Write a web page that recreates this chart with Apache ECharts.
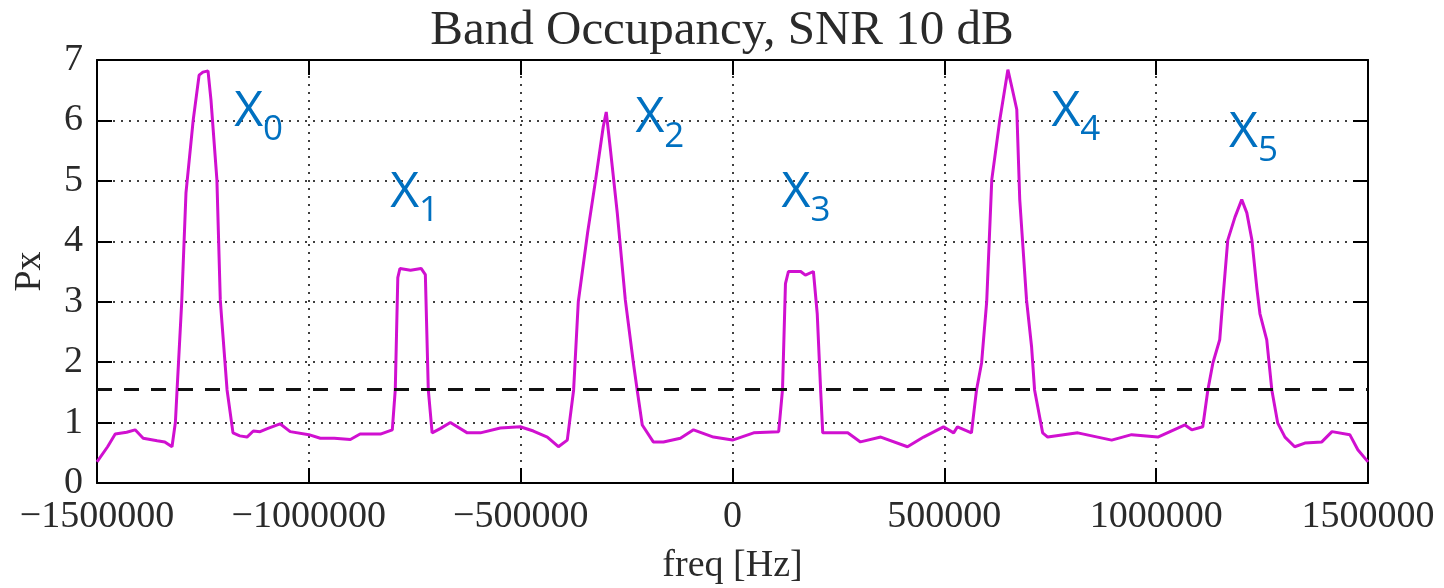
<!DOCTYPE html>
<html>
<head>
<meta charset="utf-8">
<script src="https://cdn.jsdelivr.net/npm/echarts@6/dist/echarts.min.js"></script>
<style>
  html, body { margin: 0; padding: 0; background: #fff; }
  #chart { width: 1444px; height: 588px; }
</style>
</head>
<body>
<div id="chart"></div>
<script>
// spectrum (freq in Hz, Px)
var freqHz = [
  -1500000, -1475000, -1457000, -1430000, -1410000, -1391000, -1358000, -1340000, -1323000, -1315000,
  -1311000, -1300000, -1290000, -1273000, -1259000, -1250000, -1238000, -1231000, -1217000, -1209000,
  -1205000, -1193000, -1179000, -1163000, -1146000, -1131000, -1115000, -1098000, -1068000, -1044000,
  -1000000, -973000, -940000, -902000, -879000, -831000, -803000, -796000, -790000, -785000,
  -760000, -735000, -725000, -718000, -709000, -690000, -666000, -626000, -595000, -548000,
  -501000, -470000, -437000, -411000, -390000, -375000, -364000, -342000, -323000, -305000,
  -298000, -288000, -272000, -253000, -234000, -225000, -213000, -187000, -163000, -123000,
  -92000, -45000, 0, 50000, 109000, 118000, 125000, 132000, 161000, 172000,
  191000, 200000, 208000, 213000, 272000, 302000, 350000, 413000, 451000, 498000,
  522000, 531000, 564000, 576000, 588000, 600000, 612000, 631000, 650000, 661000,
  671000, 678000, 686000, 694000, 706000, 713000, 732000, 744000, 815000, 895000,
  942000, 1004000, 1068000, 1084000, 1110000, 1122000, 1134000, 1150000, 1157000, 1169000,
  1186000, 1202000, 1214000, 1226000, 1238000, 1245000, 1261000, 1273000, 1287000, 1304000,
  1327000, 1351000, 1391000, 1415000, 1457000, 1476000, 1500000
];
var px = [
  0.35, 0.60, 0.81, 0.84, 0.88, 0.74, 0.70, 0.68, 0.60, 1.00,
  1.54, 3.00, 4.80, 6.00, 6.75, 6.80, 6.82, 6.34, 5.02, 3.03,
  2.65, 1.54, 0.83, 0.78, 0.76, 0.86, 0.85, 0.90, 0.98, 0.85,
  0.80, 0.74, 0.74, 0.72, 0.81, 0.81, 0.88, 1.54, 3.40, 3.55,
  3.52, 3.55, 3.45, 1.54, 0.83, 0.90, 1.00, 0.83, 0.83, 0.91,
  0.93, 0.86, 0.76, 0.60, 0.71, 1.54, 3.00, 4.14, 5.02, 5.90,
  6.14, 5.51, 4.47, 3.03, 1.99, 1.54, 0.96, 0.68, 0.68, 0.74,
  0.88, 0.76, 0.71, 0.83, 0.85, 1.54, 3.30, 3.50, 3.50, 3.44,
  3.50, 2.80, 1.54, 0.83, 0.83, 0.68, 0.76, 0.60, 0.76, 0.93,
  0.83, 0.93, 0.83, 1.54, 1.99, 3.00, 5.02, 6.01, 6.84, 6.50,
  6.18, 4.69, 3.86, 3.03, 2.25, 1.54, 0.83, 0.76, 0.83, 0.71,
  0.80, 0.76, 0.96, 0.88, 0.93, 1.54, 1.99, 2.37, 3.00, 4.02,
  4.40, 4.69, 4.47, 4.02, 3.20, 2.80, 2.37, 1.54, 0.99, 0.76,
  0.60, 0.66, 0.68, 0.85, 0.80, 0.55, 0.35
];
var threshold = 1.55;

// band labels X0..X5 (top-left corner, data coords)
var bandNames = ['0', '1', '2', '3', '4', '5'];
var bandFreq = [-1169000, -801000, -222000, 123000, 760000, 1179000];
var bandPx = [6.47, 5.13, 6.37, 5.13, 6.47, 6.13];

var chart = echarts.init(document.getElementById('chart'));

var serif = 'Liberation Serif';
var lineData = freqHz.map(function (f, i) { return [f, px[i]]; });
var labelData = bandFreq.map(function (f, i) { return [f, bandPx[i]]; });

var frameAxis = {
    axisLine: { show: true, onZero: false, lineStyle: { color: '#000', width: 2 } },
    axisTick: { show: true, inside: true, length: 15, lineStyle: { color: '#000', width: 2 } }
};

var option = {
    animation: false,
    title: {
        text: 'Band Occupancy, SNR 10 dB',
        left: 'center',
        top: 2,
        textStyle: { fontFamily: serif, fontSize: 49, fontWeight: 'normal', color: '#2a2a2a' }
    },
    grid: { left: 97, right: 76, top: 60, bottom: 105, outerBoundsMode: 'none' },
    xAxis: [{
        type: 'value',
        min: -1500000,
        max: 1500000,
        interval: 500000,
        name: 'freq [Hz]',
        nameLocation: 'middle',
        nameGap: 64,
        nameTextStyle: { fontFamily: serif, fontSize: 38, color: '#2a2a2a' },
        axisLine: frameAxis.axisLine,
        axisTick: frameAxis.axisTick,
        axisLabel: {
            fontFamily: serif, fontSize: 38, color: '#2a2a2a', margin: 15,
            formatter: function (v) { return String(v).replace('-', '\u2212'); }
        },
        splitLine: { lineStyle: { color: '#000', width: 1.5, type: [2, 6] } }
    }, {
        type: 'value',
        position: 'top',
        min: -1500000,
        max: 1500000,
        interval: 500000,
        axisLine: frameAxis.axisLine,
        axisTick: frameAxis.axisTick,
        axisLabel: { show: false },
        splitLine: { show: false }
    }],
    yAxis: [{
        type: 'value',
        min: 0,
        max: 7,
        interval: 1,
        name: 'Px',
        nameLocation: 'middle',
        nameGap: 48,
        nameTextStyle: { fontFamily: serif, fontSize: 38, color: '#2a2a2a' },
        axisLine: frameAxis.axisLine,
        axisTick: frameAxis.axisTick,
        axisLabel: { fontFamily: serif, fontSize: 38, color: '#2a2a2a', margin: 14 },
        splitLine: { lineStyle: { color: '#000', width: 1.5, type: [2, 6] } }
    }, {
        type: 'value',
        position: 'right',
        min: 0,
        max: 7,
        interval: 1,
        axisLine: frameAxis.axisLine,
        axisTick: frameAxis.axisTick,
        axisLabel: { show: false },
        splitLine: { show: false }
    }],
    series: [{
        name: 'Px',
        type: 'line',
        data: lineData,
        showSymbol: false,
        lineStyle: { color: '#d010d0', width: 3 },
        markLine: {
            silent: true,
            symbol: 'none',
            label: { show: false },
            lineStyle: { color: '#111', width: 3, type: [15, 12] },
            data: [{ yAxis: threshold }]
        },
        z: 3
    }, {
        name: 'bands',
        type: 'scatter',
        data: labelData,
        symbolSize: 0,
        silent: true,
        itemStyle: { opacity: 1 },
        label: {
            show: true,
            position: [-3, -5],
            align: 'left',
            verticalAlign: 'top',
            opacity: 1,
            formatter: function (p) { return '{x|X}{s|' + bandNames[p.dataIndex] + '}'; },
            rich: {
                x: { fontFamily: 'Open Sans', fontSize: 50, color: '#0070c0', lineHeight: 50, verticalAlign: 'top' },
                s: { fontFamily: 'Open Sans', fontSize: 35, color: '#0070c0', lineHeight: 35, verticalAlign: 'top', padding: [26, 0, 0, 0] }
            }
        },
        z: 4
    }]
};

chart.setOption(option);
</script>
</body>
</html>
